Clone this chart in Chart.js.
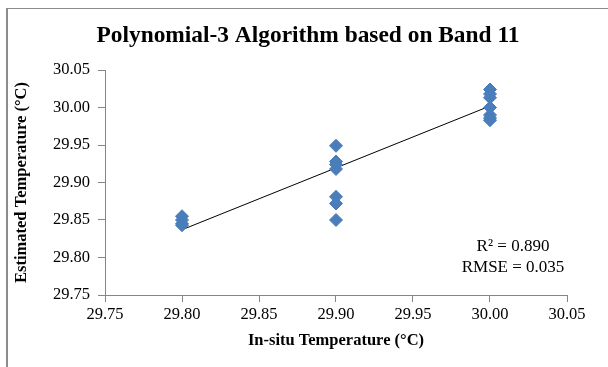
<!DOCTYPE html>
<html>
<head>
<meta charset="utf-8">
<script src="https://cdn.jsdelivr.net/npm/chart.js@4/dist/chart.umd.min.js"></script>
<style>
  body { margin: 0; background: #fff; }
  .wrap { position: relative; width: 608px; height: 367px; }
  .frame { position: absolute; left: 6px; top: 8px; right: 0; bottom: 0;
           border-top: 1.5px solid #8c8c8c; border-left: 2px solid #8c8c8c; }
  canvas { position: absolute; left: 0; top: 0; }
</style>
</head>
<body>
<div class="wrap">
  <div class="frame"></div>
  <canvas id="chart" width="608" height="367"></canvas>
</div>
<script>
  // 데이터
  var inSitu = [29.80, 29.80, 29.80, 29.80,
                29.90, 29.90, 29.90, 29.90, 29.90, 29.90, 29.90,
                30.00, 30.00, 30.00, 30.00, 30.00, 30.00, 30.00];
  var estimated = [29.855, 29.850, 29.845, 29.843,
                   29.949, 29.928, 29.924, 29.918, 29.881, 29.872, 29.850,
                   30.024, 30.018, 30.013, 30.000, 29.990, 29.986, 29.983];
  var trendX = [29.80, 30.00];
  var trendY = [29.837, 30.002];
  var chartTitle = 'Polynomial-3 Algorithm based on Band 11';
  var statLines = ['R\u00B2 = 0.890', 'RMSE = 0.035'];

  var serif = '"Liberation Serif", "Times New Roman", serif';
  var grey = '#868686';

  function toPoints(xs, ys) {
    return xs.map(function (x, i) { return { x: x, y: ys[i] }; });
  }

  // 제목 + 결정계수 / RMSE 텍스트
  var textLayer = {
    id: 'textLayer',
    afterDraw: function (chart) {
      var ctx = chart.ctx;
      ctx.save();
      ctx.fillStyle = '#000';
      ctx.textAlign = 'center';
      ctx.textBaseline = 'middle';
      ctx.font = 'bold 23.4px ' + serif;
      ctx.fillText(chartTitle, 308, 36);
      ctx.font = '17px ' + serif;
      ctx.fillText(statLines[0], 513, 247);
      ctx.fillText(statLines[1], 513, 268);
      ctx.restore();
    }
  };

  new Chart(document.getElementById('chart').getContext('2d'), {
    type: 'scatter',
    data: {
      datasets: [{
        label: 'Estimated',
        data: toPoints(inSitu, estimated),
        pointStyle: 'rectRot',
        pointRadius: 6.5,
        pointHoverRadius: 6.5,
        backgroundColor: '#4a7ebb',
        borderColor: '#4a7ebb',
        borderWidth: 1
      }, {
        label: 'Trend',
        type: 'line',
        data: toPoints(trendX, trendY),
        borderColor: '#000',
        borderWidth: 1,
        pointRadius: 0,
        fill: false
      }]
    },
    options: {
      responsive: false,
      animation: false,
      layout: { padding: { top: 70, right: 41, bottom: 0, left: 0 } },
      plugins: {
        legend: { display: false },
        tooltip: { enabled: false },
        title: { display: false }
      },
      scales: {
        x: {
          type: 'linear',
          min: 29.75,
          max: 30.05,
          afterFit: function (s) { s.height = 72; },
          ticks: {
            stepSize: 0.05,
            padding: 3,
            color: '#000',
            font: { family: serif, size: 16.5 },
            callback: function (v) { return v.toFixed(2); }
          },
          grid: { drawOnChartArea: false, drawTicks: true, tickLength: 7, color: grey },
          border: { color: grey },
          title: {
            display: true,
            text: 'In-situ Temperature (\u00B0C)',
            color: '#000',
            font: { family: serif, size: 16.5, weight: 'bold' },
            padding: { top: 0, bottom: 16 }
          }
        },
        y: {
          type: 'linear',
          min: 29.75,
          max: 30.05,
          afterFit: function (s) { s.width = 105; },
          ticks: {
            stepSize: 0.05,
            padding: 8,
            color: '#000',
            font: { family: serif, size: 16.5 },
            callback: function (v) { return v.toFixed(2); }
          },
          grid: { drawOnChartArea: false, drawTicks: true, tickLength: 7, color: grey },
          border: { color: grey },
          title: {
            display: true,
            text: 'Estimated Temperature (\u00B0C)',
            color: '#000',
            font: { family: serif, size: 16.5, weight: 'bold' },
            padding: { top: 12, bottom: 12 }
          }
        }
      }
    },
    plugins: [textLayer]
  });
</script>
</body>
</html>
